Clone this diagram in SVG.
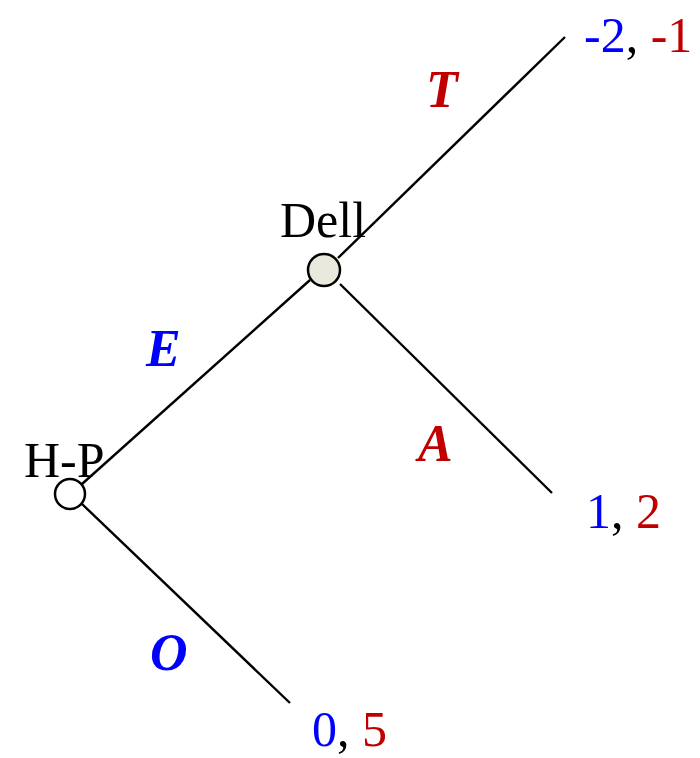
<svg xmlns="http://www.w3.org/2000/svg" width="700" height="758" viewBox="0 0 700 758">
<style>
.t{font-family:"Liberation Serif","Times New Roman",serif;font-size:50px}
.lbl{font-family:"Liberation Serif","Times New Roman",serif;font-size:52px;font-style:italic;font-weight:bold}
.b{fill:#0000ff}.r{fill:#c00000}.k{fill:#000}
.edge{stroke:#000;stroke-width:2.4;fill:none}
.node{stroke:#000;stroke-width:2.5}
</style>
<rect width="700" height="758" fill="#fff"/>
<g id="connectors">
<line class="edge" x1="82" y1="484" x2="310" y2="280"/>
<line class="edge" x1="338" y1="258" x2="565" y2="37"/>
<line class="edge" x1="340" y1="284" x2="552" y2="493"/>
<line class="edge" x1="82" y1="504" x2="290" y2="703"/>
<text class="lbl r" x="426" y="107">T</text>
<text class="lbl b" x="146" y="366">E</text>
<text class="lbl r" x="418" y="461">A</text>
<text class="lbl b" x="150" y="670">O</text>
</g>
<g id="hp">
<circle class="node" cx="70" cy="494" r="15" fill="#fff"/>
<text class="t k" x="24" y="477">H-P</text>
</g>
<g id="dell">
<circle class="node" cx="324" cy="270" r="16" fill="#e8e8dc"/>
<text class="t k" x="280" y="237">Dell</text>
</g>
<g id="payoff-t">
<text class="t" x="584" y="52"><tspan class="b">-2</tspan><tspan class="k">, </tspan><tspan class="r">-1</tspan></text>
</g>
<g id="payoff-a">
<text class="t" x="586" y="528"><tspan class="b">1</tspan><tspan class="k">, </tspan><tspan class="r">2</tspan></text>
</g>
<g id="payoff-o">
<text class="t" x="312" y="746"><tspan class="b">0</tspan><tspan class="k">, </tspan><tspan class="r">5</tspan></text>
</g>
</svg>
